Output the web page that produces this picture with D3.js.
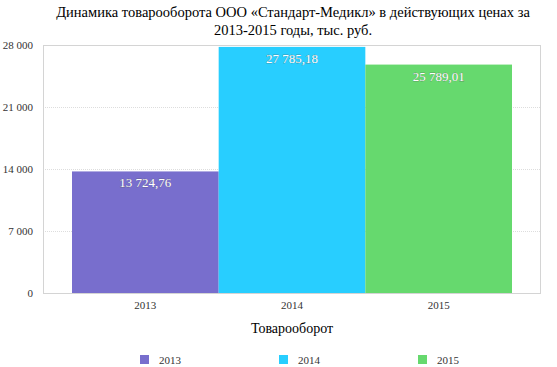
<!DOCTYPE html>
<html><head><meta charset="utf-8">
<script src="https://cdn.jsdelivr.net/npm/d3@7"></script>
<style>body{margin:0;background:#fff}svg{display:block}</style>
</head><body><svg id="c" width="557" height="367"></svg>
<script>
const categories = ["2013","2014","2015"];
const values = [13724.76, 27785.18, 25789.01];
const labels = ["13 724,76","27 785,18","25 789,01"];
const colors = ["#786ecd","#28ceff","#66d96e"];
const yTicks = [0,7000,14000,21000,28000];
const yTickLabels = ["0","7 000","14 000","21 000","28 000"];
const titleLines = ["Динамика товарооборота ООО «Стандарт-Медикл» в действующих ценах за","2013-2015 годы, тыс. руб."];
const xTitle = "Товарооборот";
const FONT = "'Liberation Serif'";

const svg = d3.select("#c").style("font-family", FONT);
const m = {l:43, r:541, t:45, b:293};
const y = d3.scaleLinear().domain([0,28000]).range([m.b, m.t]);
const x = d3.scaleBand().domain(categories).range([72,512]).padding(0);

svg.selectAll("text.title").data(titleLines).join("text")
  .attr("x",293).attr("y",(d,i)=>17+i*18).attr("text-anchor","middle")
  .style("font-family",FONT).attr("font-size",14.5).attr("fill","#000").text(d=>d);

svg.selectAll("line.grid").data(yTicks.filter(t=>t>0 && t<28000)).join("line")
  .attr("x1",m.l).attr("x2",m.r).attr("y1",d=>y(d)+0.5).attr("y2",d=>y(d)+0.5)
  .attr("stroke","#ddd").attr("stroke-dasharray","1,1");

svg.selectAll("rect.bar").data(values).join("rect")
  .attr("x",(d,i)=>x(categories[i])).attr("width",x.bandwidth())
  .attr("y",d=>y(d)).attr("height",d=>m.b-y(d)).attr("fill",(d,i)=>colors[i]);

svg.append("rect").attr("x",m.l+0.5).attr("y",m.t+0.5).attr("width",m.r-m.l-1).attr("height",m.b-m.t)
  .attr("fill","none").attr("stroke","#d4d4d4");

svg.selectAll("text.yt").data(yTicks).join("text")
  .attr("x",33).attr("y",d=>y(d)+4).attr("text-anchor","end").attr("font-size",11).attr("fill","#333")
  .style("font-family",FONT).text((d,i)=>yTickLabels[i]);

svg.selectAll("text.xt").data(categories).join("text")
  .attr("x",d=>x(d)+x.bandwidth()/2).attr("y",309).attr("text-anchor","middle").attr("font-size",11).attr("fill","#333")
  .style("font-family",FONT).text(d=>d);

svg.selectAll("text.dl").data(values).join("text")
  .attr("x",(d,i)=>x(categories[i])+x.bandwidth()/2).attr("y",d=>y(d)+16)
  .attr("text-anchor","middle").attr("font-size",13).attr("fill","#fff")
  .attr("stroke","#555").attr("stroke-width",0.3).attr("paint-order","stroke")
  .style("font-family",FONT).text((d,i)=>labels[i]);

svg.append("text").attr("x",292).attr("y",333).attr("text-anchor","middle").attr("font-size",14).attr("fill","#000")
  .style("font-family",FONT).text(xTitle);

const lg = svg.selectAll("g.lg").data(categories).join("g").attr("transform",(d,i)=>`translate(${140+i*139},355)`);
lg.append("rect").attr("width",9).attr("height",9).attr("fill",(d,i)=>colors[i]);
lg.append("text").attr("x",19).attr("y",8.5).attr("font-size",11).attr("fill","#333").style("font-family",FONT).text(d=>d);
</script></body></html>
